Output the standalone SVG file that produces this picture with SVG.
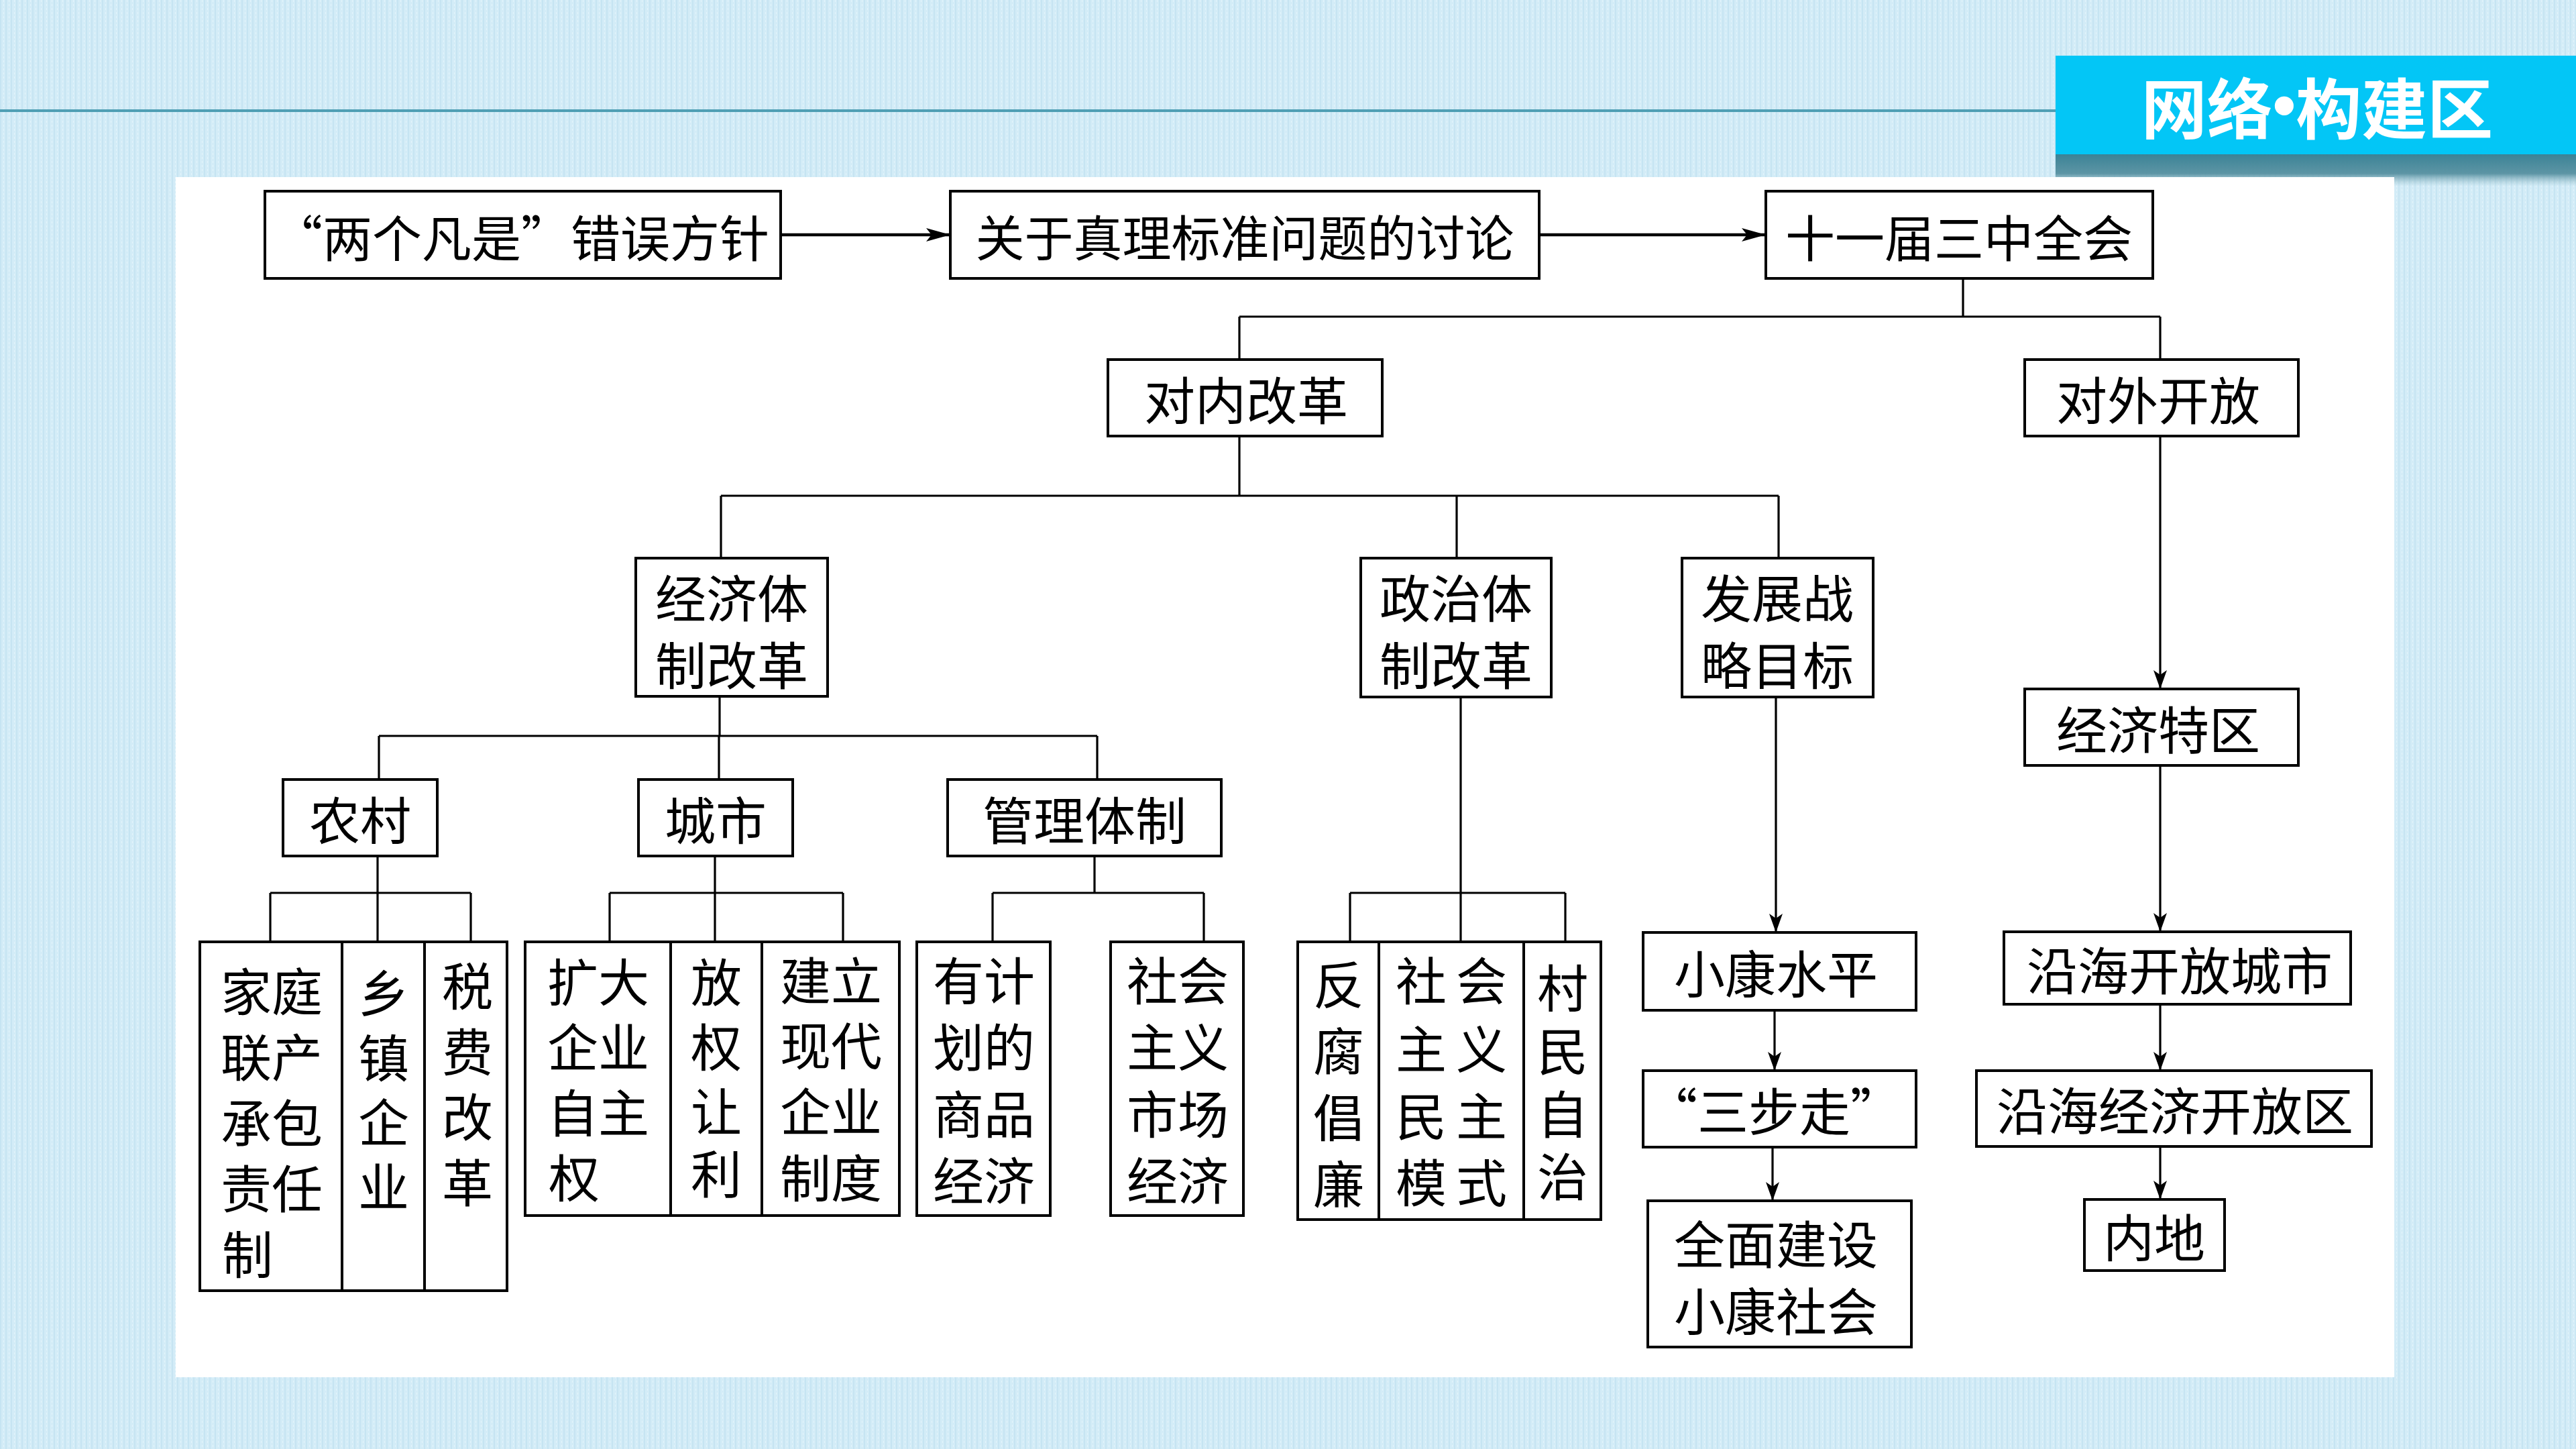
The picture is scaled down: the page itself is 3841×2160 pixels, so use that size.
<svg xmlns="http://www.w3.org/2000/svg" width="3841" height="2160" viewBox="0 0 3841 2160">
<style>
.box{fill:#fff;stroke:#000;stroke-width:4}
.t{font-family:"Noto Sans CJK SC","Noto Sans CJK JP",sans-serif;font-size:76px;fill:#000;text-anchor:middle;dominant-baseline:central}
.c{fill:none;stroke:#000;stroke-width:3.2}
.ct{fill:none;stroke:#000;stroke-width:4.5}
.title{font-family:"Noto Sans CJK SC",sans-serif;font-size:98px;font-weight:bold;fill:#fff;text-anchor:middle;dominant-baseline:central}
</style>
<defs>
<pattern id="tex" width="8" height="6" patternUnits="userSpaceOnUse">
<rect width="8" height="6" fill="#d3ecf7"/>
<rect x="0" y="0" width="2" height="6" fill="#c6e4f2"/>
<rect x="5" y="0" width="1" height="3" fill="#e4f4fb"/>
</pattern>
<linearGradient id="shadow" x1="0" y1="0" x2="0" y2="1">
<stop offset="0" stop-color="#3b8396"/>
<stop offset="0.6" stop-color="#5d95a5"/>
<stop offset="1" stop-color="#9fc3ce" stop-opacity="0"/>
</linearGradient>
<marker id="ab" viewBox="0 0 36 20" refX="36" refY="10" markerWidth="36" markerHeight="20" markerUnits="userSpaceOnUse" orient="auto">
<path d="M0,0 L36,10 L0,20 L8,10 Z" fill="#000"/>
</marker>
<marker id="as" viewBox="0 0 28 20" refX="28" refY="10" markerWidth="28" markerHeight="20" markerUnits="userSpaceOnUse" orient="auto">
<path d="M0,0 L28,10 L0,20 L7,10 Z" fill="#000"/>
</marker>
</defs>

<rect width="3841" height="2160" fill="url(#tex)"/>
<rect x="0" y="163" width="3065" height="4" fill="#4f9fb4"/>
<rect x="3065" y="230" width="776" height="48" fill="url(#shadow)"/>
<rect x="3065" y="83" width="776" height="147" fill="#03c6f6"/>
<text class="title" x="3455" y="156">网络<tspan font-family="Liberation Sans">•</tspan>构建区</text>

<rect x="262" y="264" width="3308" height="1789" fill="#fff"/>

<g id="connectors">
<path class="ct" d="M1164,350 H1417" marker-end="url(#ab)"/>
<path class="ct" d="M2295,350 H2633" marker-end="url(#ab)"/>
<path class="c" d="M2927,415 V472 M1848,472 H3221 M1848,472 V536 M3221,472 V536"/>
<path class="c" d="M3221,650 V1027" marker-end="url(#as)"/>
<path class="c" d="M1848,650 V739 M1075,739 H2652 M1075,739 V832 M2172,739 V832 M2652,739 V832"/>
<path class="c" d="M1073,1038 V1097 M565,1097 H1636 M565,1097 V1162 M1072,1097 V1162 M1636,1097 V1162"/>
<path class="c" d="M563,1276 V1331 M403,1331 H702 M403,1331 V1404 M563,1331 V1404 M702,1331 V1404"/>
<path class="c" d="M1066,1276 V1331 M909,1331 H1257 M909,1331 V1404 M1066,1331 V1404 M1257,1331 V1404"/>
<path class="c" d="M1632,1276 V1331 M1480,1331 H1795 M1480,1331 V1404 M1795,1331 V1404"/>
<path class="c" d="M2178,1039 V1331 M2013,1331 H2334 M2013,1331 V1404 M2178,1331 V1404 M2334,1331 V1404"/>
<path class="c" d="M2648,1039 V1390" marker-end="url(#as)"/>
<path class="c" d="M2646,1506 V1596" marker-end="url(#as)"/>
<path class="c" d="M2643,1710 V1790" marker-end="url(#as)"/>
<path class="c" d="M3221,1141 V1389" marker-end="url(#as)"/>
<path class="c" d="M3221,1497 V1596" marker-end="url(#as)"/>
<path class="c" d="M3221,1709 V1788" marker-end="url(#as)"/>
</g>

<g id="n-liangge"><rect class="box" x="395" y="285" width="769" height="130"/><text class="t" x="777" y="350" style="font-size:74px">“两个凡是”错误方针</text></g>
<g id="n-taolun"><rect class="box" x="1417" y="285" width="878" height="130"/><text class="t" x="1856" y="350" style="font-size:73px">关于真理标准问题的讨论</text></g>
<g id="n-sanzhong"><rect class="box" x="2633" y="285" width="577" height="130"/><text class="t" x="2921" y="350" style="font-size:74px">十一届三中全会</text></g>

<g id="n-duinei"><rect class="box" x="1652" y="536" width="409" height="114"/><text class="t" x="1858" y="593">对内改革</text></g>
<g id="n-duiwai"><rect class="box" x="3019" y="536" width="408" height="114"/><text class="t" x="3218" y="593">对外开放</text></g>

<g id="n-jingji"><rect class="box" x="948" y="832" width="286" height="206"/><text class="t" x="1091" y="888">经济体</text><text class="t" x="1091" y="988">制改革</text></g>
<g id="n-zhengzhi"><rect class="box" x="2029" y="832" width="284" height="207"/><text class="t" x="2171" y="888">政治体</text><text class="t" x="2171" y="988">制改革</text></g>
<g id="n-fazhan"><rect class="box" x="2508" y="832" width="285" height="207"/><text class="t" x="2650" y="888">发展战</text><text class="t" x="2650" y="988">略目标</text></g>

<g id="n-tequ"><rect class="box" x="3019" y="1027" width="408" height="114"/><text class="t" x="3218" y="1084">经济特区</text></g>

<g id="n-nongcun"><rect class="box" x="422" y="1162" width="230" height="114"/><text class="t" x="537" y="1219">农村</text></g>
<g id="n-chengshi"><rect class="box" x="952" y="1162" width="230" height="114"/><text class="t" x="1067" y="1219">城市</text></g>
<g id="n-guanli"><rect class="box" x="1413" y="1162" width="408" height="114"/><text class="t" x="1617" y="1219">管理体制</text></g>

<g id="n-jiating"><rect class="box" x="298" y="1404" width="212" height="520"/>
<text class="t" x="405" y="1474">家庭</text><text class="t" x="405" y="1572">联产</text><text class="t" x="405" y="1670">承包</text><text class="t" x="405" y="1768">责任</text><text class="t" x="369" y="1866">制</text></g>
<g id="n-xiangzhen"><rect class="box" x="510" y="1404" width="123" height="520"/>
<text class="t" x="572" y="1476">乡</text><text class="t" x="572" y="1573">镇</text><text class="t" x="572" y="1669">企</text><text class="t" x="572" y="1765">业</text></g>
<g id="n-shuifei"><rect class="box" x="633" y="1404" width="123" height="520"/>
<text class="t" x="697" y="1466">税</text><text class="t" x="697" y="1564">费</text><text class="t" x="697" y="1661">改</text><text class="t" x="697" y="1759">革</text></g>

<g id="n-kuoda"><rect class="box" x="783" y="1404" width="217" height="408"/>
<text class="t" x="892" y="1460">扩大</text><text class="t" x="892" y="1557">企业</text><text class="t" x="892" y="1655">自主</text><text class="t" x="856" y="1752">权</text></g>
<g id="n-fangquan"><rect class="box" x="1000" y="1404" width="136" height="408"/>
<text class="t" x="1068" y="1460">放</text><text class="t" x="1068" y="1557">权</text><text class="t" x="1068" y="1653">让</text><text class="t" x="1068" y="1746">利</text></g>
<g id="n-jianli"><rect class="box" x="1136" y="1404" width="205" height="408"/>
<text class="t" x="1239" y="1458">建立</text><text class="t" x="1239" y="1555">现代</text><text class="t" x="1239" y="1653">企业</text><text class="t" x="1239" y="1752">制度</text></g>

<g id="n-youjihua"><rect class="box" x="1367" y="1404" width="199" height="408"/>
<text class="t" x="1467" y="1458">有计</text><text class="t" x="1467" y="1557">划的</text><text class="t" x="1467" y="1657">商品</text><text class="t" x="1467" y="1756">经济</text></g>
<g id="n-shichang"><rect class="box" x="1656" y="1404" width="198" height="408"/>
<text class="t" x="1756" y="1458">社会</text><text class="t" x="1756" y="1557">主义</text><text class="t" x="1756" y="1657">市场</text><text class="t" x="1756" y="1756">经济</text></g>

<g id="n-fanfu"><rect class="box" x="1935" y="1404" width="121" height="414"/>
<text class="t" x="1996" y="1464">反</text><text class="t" x="1996" y="1563">腐</text><text class="t" x="1996" y="1662">倡</text><text class="t" x="1996" y="1761">廉</text></g>
<g id="n-minzhu"><rect class="box" x="2056" y="1404" width="216" height="414"/>
<text class="t" x="2119 2209" y="1458">社会</text><text class="t" x="2119 2209" y="1560">主义</text><text class="t" x="2119 2209" y="1660">民主</text><text class="t" x="2119 2209" y="1759">模式</text></g>
<g id="n-cunmin"><rect class="box" x="2272" y="1404" width="115" height="414"/>
<text class="t" x="2330" y="1469">村</text><text class="t" x="2330" y="1563">民</text><text class="t" x="2330" y="1657">自</text><text class="t" x="2330" y="1750">治</text></g>

<g id="n-xiaokang"><rect class="box" x="2450" y="1390" width="407" height="116"/><text class="t" x="2648" y="1448">小康水平</text></g>
<g id="n-sanbu"><rect class="box" x="2450" y="1596" width="407" height="114"/><text class="t" x="2645" y="1653">“三步走”</text></g>
<g id="n-quanmian"><rect class="box" x="2457" y="1790" width="393" height="218"/><text class="t" x="2648" y="1851">全面建设</text><text class="t" x="2648" y="1951">小康社会</text></g>

<g id="n-yanhaichengshi"><rect class="box" x="2988" y="1389" width="517" height="108"/><text class="t" x="3250" y="1443">沿海开放城市</text></g>
<g id="n-yanhaijingji"><rect class="box" x="2947" y="1596" width="589" height="113"/><text class="t" x="3243" y="1652">沿海经济开放区</text></g>
<g id="n-neidi"><rect class="box" x="3108" y="1788" width="209" height="106"/><text class="t" x="3212" y="1841">内地</text></g>
</svg>
